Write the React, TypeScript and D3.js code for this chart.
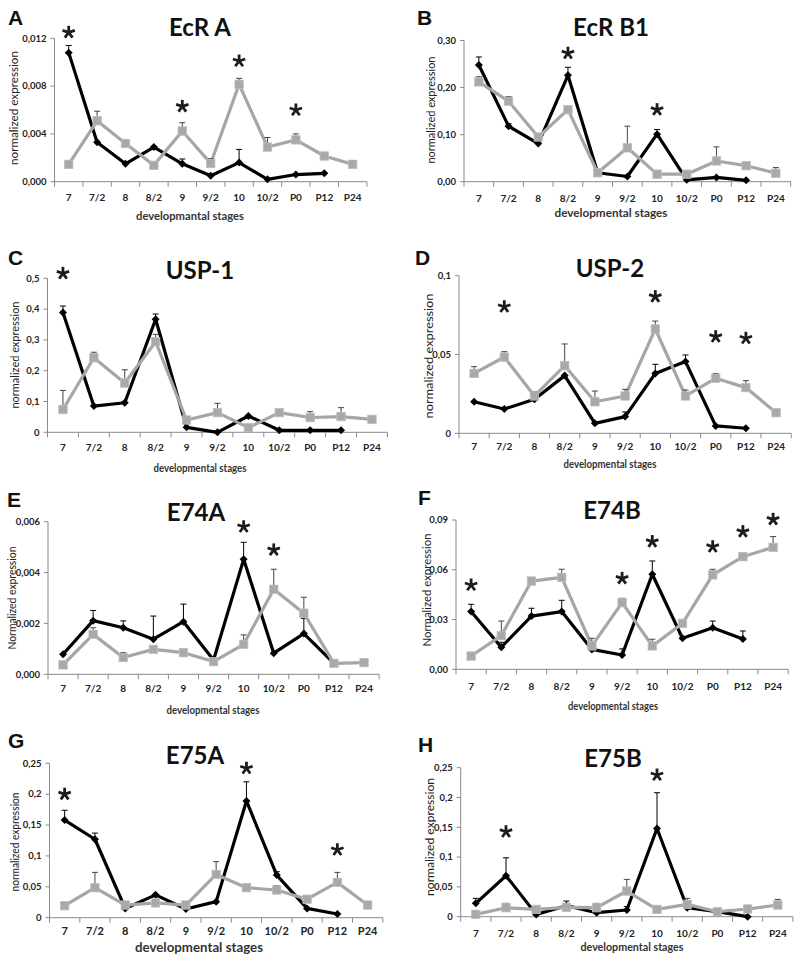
import React from "react";
import * as d3 from "d3";

// ---------- data ----------
const stages = ["7", "7/2", "8", "8/2", "9", "9/2", "10", "10/2", "P0", "P12", "P24"];

// A  EcR A
const ecrA_black = [0.0108, 0.0033, 0.0015, 0.0029, 0.0015, 0.0005, 0.0016, 0.0002, 0.0006, 0.0007, null];
const ecrA_blackErr = [0.0006, 0, 0, 0, 0.0004, 0, 0.0011, 0, 0, 0, null];
const ecrA_gray = [0.00145, 0.0051, 0.0032, 0.00137, 0.00424, 0.00153, 0.00815, 0.0029, 0.0035, 0.00215, 0.00145];
const ecrA_grayErr = [0, 0.0008, 0, 0, 0.0007, 0.0004, 0.0005, 0.0008, 0.0005, 0, 0.0003];
const ecrA_stars = [["7", 0.0125], ["9", 0.0063], ["10", 0.0101], ["P0", 0.006]];
const ecrA_ticks = [0, 0.004, 0.008, 0.012];

// B  EcR B1
const ecrB1_black = [0.248, 0.118, 0.081, 0.226, 0.019, 0.011, 0.101, 0.004, 0.009, 0.003, null];
const ecrB1_blackErr = [0.017, 0.005, 0, 0.017, 0, 0, 0.01, 0, 0, 0, null];
const ecrB1_gray = [0.212, 0.171, 0.095, 0.153, 0.019, 0.072, 0.016, 0.016, 0.044, 0.034, 0.018];
const ecrB1_grayErr = [0.011, 0.01, 0, 0, 0, 0.046, 0, 0, 0.03, 0.007, 0.012];
const ecrB1_stars = [["8/2", 0.273], ["10", 0.153]];
const ecrB1_ticks = [0, 0.1, 0.2, 0.3];

// C  USP-1
const usp1_black = [0.389, 0.085, 0.096, 0.367, 0.016, 0.0, 0.053, 0.0065, 0.0065, 0.0065, null];
const usp1_blackErr = [0.021, 0, 0, 0.017, 0, 0, 0, 0, 0, 0, null];
const usp1_gray = [0.074, 0.242, 0.16, 0.294, 0.04, 0.064, 0.015, 0.064, 0.048, 0.051, 0.042];
const usp1_grayErr = [0.062, 0.018, 0.043, 0.024, 0, 0.03, 0, 0, 0.019, 0.029, 0];
const usp1_stars = [["7", 0.516]];
const usp1_ticks = [0, 0.1, 0.2, 0.3, 0.4, 0.5];

// D  USP-2
const usp2_black = [0.02, 0.0154, 0.0216, 0.0366, 0.0063, 0.0106, 0.038, 0.0455, 0.0047, 0.0032, null];
const usp2_blackErr = [0, 0, 0, 0, 0, 0.003, 0.0058, 0.0042, 0, 0, null];
const usp2_gray = [0.038, 0.0484, 0.0237, 0.0429, 0.02, 0.0237, 0.0662, 0.0237, 0.0349, 0.029, 0.0131];
const usp2_grayErr = [0.0043, 0.0034, 0.0027, 0.0138, 0.0068, 0.0042, 0.005, 0.0038, 0.0031, 0.0044, 0];
const usp2_stars = [["7/2", 0.0803], ["10", 0.0867], ["P0", 0.0613], ["P12", 0.0603]];
const usp2_ticks = [0, 0.05, 0.1];

// E  E74A
const e74a_black = [0.00079, 0.00211, 0.00183, 0.00138, 0.00207, 0.00056, 0.00452, 0.00083, 0.0016, 0.00043, null];
const e74a_blackErr = [0, 0.0004, 0.00027, 0.00091, 0.00069, 0, 0.00067, 0, 0.0006, 0, null];
const e74a_gray = [0.00037, 0.00157, 0.00066, 0.00098, 0.00085, 0.0005, 0.00118, 0.00334, 0.0024, 0.00043, 0.00046];
const e74a_grayErr = [0, 0.00026, 0.00019, 0, 0, 0, 0.00037, 0.00079, 0.00063, 0, 0];
const e74a_stars = [["10", 0.0058], ["10/2", 0.00489]];
const e74a_ticks = [0, 0.002, 0.004, 0.006];

// F  E74B
const e74b_black = [0.0348, 0.0133, 0.0321, 0.0348, 0.012, 0.0086, 0.0573, 0.0187, 0.0251, 0.0183, null];
const e74b_blackErr = [0.0044, 0.003, 0.0047, 0.0068, 0, 0.0037, 0.008, 0, 0.004, 0.0048, null];
const e74b_gray = [0.008, 0.0203, 0.0532, 0.0554, 0.0141, 0.0402, 0.0141, 0.0277, 0.0569, 0.0679, 0.0735];
const e74b_grayErr = [0, 0.0088, 0.0015, 0.0049, 0.0046, 0.0026, 0.004, 0, 0.0034, 0, 0.0065];
const e74b_stars = [["7", 0.0508], ["9/2", 0.0548], ["10", 0.077], ["P0", 0.0739], ["P12", 0.083], ["P24", 0.0904]];
const e74b_ticks = [0, 0.03, 0.06, 0.09];

// G  E75A
const e75a_black = [0.158, 0.127, 0.015, 0.037, 0.014, 0.026, 0.189, 0.069, 0.015, 0.006, null];
const e75a_blackErr = [0.016, 0.01, 0, 0, 0, 0, 0.031, 0.0055, 0, 0, null];
const e75a_gray = [0.0194, 0.0486, 0.0205, 0.024, 0.0205, 0.07, 0.0486, 0.0448, 0.03, 0.0572, 0.0205];
const e75a_grayErr = [0, 0.0248, 0.0035, 0, 0.0055, 0.0207, 0, 0.0072, 0, 0.0162, 0];
const e75a_stars = [["7", 0.2], ["10", 0.242], ["P12", 0.11]];
const e75a_ticks = [0, 0.05, 0.1, 0.15, 0.2, 0.25];

// H  E75B
const e75b_black = [0.0224, 0.0688, 0.0039, 0.0185, 0.0067, 0.0112, 0.148, 0.0151, 0.0084, 0.0, null];
const e75b_blackErr = [0.0084, 0.03, 0, 0.0078, 0, 0.006, 0.06, 0.0073, 0, 0, null];
const e75b_gray = [0.0039, 0.0151, 0.0123, 0.0157, 0.0151, 0.0431, 0.0123, 0.0207, 0.0084, 0.0129, 0.0196];
const e75b_grayErr = [0, 0.0073, 0, 0, 0.0073, 0.0195, 0, 0.0101, 0, 0, 0.0094];
const e75b_stars = [["7/2", 0.1426], ["10", 0.2377]];
const e75b_ticks = [0, 0.05, 0.1, 0.15, 0.2, 0.25];

// ---------- formatting ----------
const fixedComma = (n: number) => (v: number) => v.toFixed(n).replace(".", ",");
const generalComma = (v: number) => (v === 0 ? "0" : String(+v.toFixed(4)).replace(".", ","));

// ---------- panel configuration (layout + references to data) ----------
const panels = [
  { letter: "A", title: "EcR A", black: ecrA_black, blackErr: ecrA_blackErr, gray: ecrA_gray, grayErr: ecrA_grayErr, stars: ecrA_stars, ticks: ecrA_ticks, fmt: fixedComma(3),
    yLabel: "normalized expression", xLabel: "developmantal stages",
    xL: 54.5, band: 28.4, yTop: 38.3, yBot: 181.7, letterPos: [8, 25], titlePos: [200, 27], xTickY: 197, xTitle: [190, 216, 108, 11.5], yTitle: [14, 108, 114, 12], xTickSize: 10 },
  { letter: "B", title: "EcR B1", black: ecrB1_black, blackErr: ecrB1_blackErr, gray: ecrB1_gray, grayErr: ecrB1_grayErr, stars: ecrB1_stars, ticks: ecrB1_ticks, fmt: fixedComma(2),
    yLabel: "normalized expression", xLabel: "developmental stages",
    xL: 464, band: 29.7, yTop: 40.5, yBot: 181.7, letterPos: [417, 25], titlePos: [611, 27], xTickY: 198, xTitle: [611, 213, 113, 12], yTitle: [431, 110, 107, 11.5], xTickSize: 10 },
  { letter: "C", title: "USP-1", black: usp1_black, blackErr: usp1_blackErr, gray: usp1_gray, grayErr: usp1_grayErr, stars: usp1_stars, ticks: usp1_ticks, fmt: generalComma,
    yLabel: "normalized expression", xLabel: "developmental stages",
    xL: 47.5, band: 30.9, yTop: 278.3, yBot: 432.3, letterPos: [8, 265], titlePos: [200, 270], xTickY: 447, xTitle: [200, 468, 93, 10.5], yTitle: [15, 355, 107, 11.5], xTickSize: 10 },
  { letter: "D", title: "USP-2", black: usp2_black, blackErr: usp2_blackErr, gray: usp2_gray, grayErr: usp2_grayErr, stars: usp2_stars, ticks: usp2_ticks, fmt: generalComma,
    yLabel: "normalized expression", xLabel: "developmental stages",
    xL: 459, band: 30.2, yTop: 275.7, yBot: 433.3, letterPos: [415, 265], titlePos: [610, 268], xTickY: 446.7, xTitle: [610, 464, 93, 10.5], yTitle: [429, 356, 125, 12], xTickSize: 10 },
  { letter: "E", title: "E74A", black: e74a_black, blackErr: e74a_blackErr, gray: e74a_gray, grayErr: e74a_grayErr, stars: e74a_stars, ticks: e74a_ticks, fmt: fixedComma(3),
    yLabel: "Normalized expression", xLabel: "developmental stages",
    xL: 48, band: 30.1, yTop: 521.7, yBot: 674.3, letterPos: [7, 507], titlePos: [196, 512], xTickY: 688, xTitle: [213, 710, 93, 10.5], yTitle: [12, 598, 103, 11.5], xTickSize: 10 },
  { letter: "F", title: "E74B", black: e74b_black, blackErr: e74b_blackErr, gray: e74b_gray, grayErr: e74b_grayErr, stars: e74b_stars, ticks: e74b_ticks, fmt: fixedComma(2),
    yLabel: "Normalized expression", xLabel: "developmental stages",
    xL: 456, band: 30.2, yTop: 520, yBot: 669.3, letterPos: [418, 505], titlePos: [612, 510], xTickY: 686.7, xTitle: [613, 705.7, 90, 10.5], yTitle: [427, 590, 113, 11.5], xTickSize: 10 },
  { letter: "G", title: "E75A", black: e75a_black, blackErr: e75a_blackErr, gray: e75a_gray, grayErr: e75a_grayErr, stars: e75a_stars, ticks: e75a_ticks, fmt: generalComma,
    yLabel: "normalized expression", xLabel: "developmental stages",
    xL: 49.5, band: 30.3, yTop: 763.3, yBot: 917.7, letterPos: [8, 748], titlePos: [195, 755], xTickY: 931.7, xTitle: [199, 948, 128, 13.5], yTitle: [15, 842, 99, 11], xTickSize: 11 },
  { letter: "H", title: "E75B", black: e75b_black, blackErr: e75b_blackErr, gray: e75b_gray, grayErr: e75b_grayErr, stars: e75b_stars, ticks: e75b_ticks, fmt: generalComma,
    yLabel: "normalized expression", xLabel: "developmental stages",
    xL: 460.7, band: 30.2, yTop: 767.7, yBot: 916.7, letterPos: [418, 752], titlePos: [613, 758], xTickY: 933, xTitle: [632, 947, 103, 11.5], yTitle: [430, 837, 118, 12], xTickSize: 10 },
];

const FONT = "Lato, 'Open Sans', sans-serif";
const AXIS = "#8a8a8a";
const GRAY = "#a6a6a6";

function Asterisk({ cx, cy, r = 6.5 }: { cx: number; cy: number; r?: number }) {
  const arms = [-90, -18, 54, 126, 198];
  return (
    <g stroke="#1c1c1c" strokeWidth={2.8} strokeLinecap="butt">
      {arms.map((a, i) => {
        const rad = (a * Math.PI) / 180;
        return <line key={i} x1={cx} y1={cy} x2={cx + r * Math.cos(rad)} y2={cy + r * Math.sin(rad)} />;
      })}
    </g>
  );
}

function Panel({ p }: { p: any }) {
  const x0 = p.xL;
  const x1 = p.xL + p.band * stages.length;
  const x = d3
    .scalePoint<string>()
    .domain(stages)
    .range([x0 + p.band / 2, x1 - p.band / 2]);
  const yMax = p.ticks[p.ticks.length - 1];
  const y = d3.scaleLinear().domain([0, yMax]).range([p.yBot, p.yTop]);
  const line = d3
    .line<number | null>()
    .defined((d) => d != null)
    .x((_, i) => x(stages[i]) as number)
    .y((d) => y(d as number));

  const errBars = (vals: (number | null)[], errs: (number | null)[], color: string) =>
    vals.map((v, i) => {
      const e = errs[i];
      if (v == null || e == null || e <= 0) return null;
      const cx = x(stages[i]) as number;
      const yt = y(v + e);
      return (
        <g key={"e" + i} stroke={color} strokeWidth={1}>
          <line x1={cx} x2={cx} y1={y(v)} y2={yt} />
          <line x1={cx - 3} x2={cx + 3} y1={yt} y2={yt} />
        </g>
      );
    });

  const boundaries = d3.range(stages.length + 1).map((i) => x0 + i * p.band);

  return (
    <g>
      <text x={p.letterPos[0]} y={p.letterPos[1]} fontFamily="'Liberation Sans', Arial, sans-serif" fontWeight="bold" fontSize={21} fill="#111">
        {p.letter}
      </text>
      <text x={p.titlePos[0]} y={p.titlePos[1] + 8.5} textAnchor="middle" fontFamily={FONT} fontWeight="bold" fontSize={24} fill="#111">
        {p.title}
      </text>
      {/* y axis */}
      <line x1={x0} x2={x0} y1={p.yBot} y2={p.yTop} stroke={AXIS} strokeWidth={1} />
      {p.ticks.map((t: number, i: number) => (
        <g key={"yt" + i}>
          <line x1={x0 - 4} x2={x0} y1={y(t)} y2={y(t)} stroke={AXIS} strokeWidth={1} />
          <text x={x0 - 8} y={y(t) + 3.3} textAnchor="end" fontFamily={FONT} fontWeight="bold" fontSize={9.5} fill="#222">
            {p.fmt(t)}
          </text>
        </g>
      ))}
      {/* x axis */}
      <line x1={x0} x2={x1} y1={p.yBot} y2={p.yBot} stroke={AXIS} strokeWidth={1} />
      {boundaries.map((bx, i) => (
        <line key={"xt" + i} x1={bx} x2={bx} y1={p.yBot} y2={p.yBot + 5} stroke={AXIS} strokeWidth={1} />
      ))}
      {stages.map((s) => (
        <text key={"xl" + s} x={x(s)} y={p.xTickY + 3.6} textAnchor="middle" fontFamily={FONT} fontWeight="bold" fontSize={p.xTickSize} fill="#222">
          {s}
        </text>
      ))}
      {/* axis titles */}
      <text x={p.xTitle[0]} y={p.xTitle[1] + 3.8} textAnchor="middle" fontFamily={FONT} fontWeight="bold" fontSize={p.xTitle[3]} fill="#333" textLength={p.xTitle[2]} lengthAdjust="spacingAndGlyphs">
        {p.xLabel}
      </text>
      <text
        transform={`translate(${p.yTitle[0]},${p.yTitle[1]}) rotate(-90)`}
        y={3.8}
        textAnchor="middle"
        fontFamily={FONT}
        fontSize={p.yTitle[3]}
        fill="#222"
        textLength={p.yTitle[2]}
        lengthAdjust="spacingAndGlyphs"
      >
        {p.yLabel}
      </text>

      {/* black series */}
      <path d={line(p.black) || ""} fill="none" stroke="#000" strokeWidth={3.2} strokeLinejoin="round" />
      {errBars(p.black, p.blackErr, "#000")}
      {p.black.map((v: number | null, i: number) => {
        if (v == null) return null;
        const cx = x(stages[i]) as number;
        const cy = y(v);
        return <path key={"bm" + i} d={`M${cx},${cy - 4}L${cx + 4},${cy}L${cx},${cy + 4}L${cx - 4},${cy}Z`} fill="#000" />;
      })}

      {/* gray series */}
      <path d={line(p.gray) || ""} fill="none" stroke={GRAY} strokeWidth={3.2} strokeLinejoin="round" />
      {errBars(p.gray, p.grayErr, "#444")}
      {p.gray.map((v: number | null, i: number) => {
        if (v == null) return null;
        const cx = x(stages[i]) as number;
        const cy = y(v);
        return <rect key={"gm" + i} x={cx - 4.2} y={cy - 4.2} width={8.4} height={8.4} fill="#a9a9a9" stroke="#bdbdbd" strokeWidth={0.8} />;
      })}

      {p.stars.map((s: any, i: number) => (
        <Asterisk key={"s" + i} cx={x(s[0]) as number} cy={y(s[1])} />
      ))}
    </g>
  );
}

export default function App() {
  return (
    <svg width={800} height={956} style={{ position: "absolute", left: 0, top: 0, background: "#fff" }}>
      <rect x={0} y={0} width={800} height={956} fill="#fff" />
      {panels.map((p) => (
        <Panel key={p.letter} p={p} />
      ))}
    </svg>
  );
}
